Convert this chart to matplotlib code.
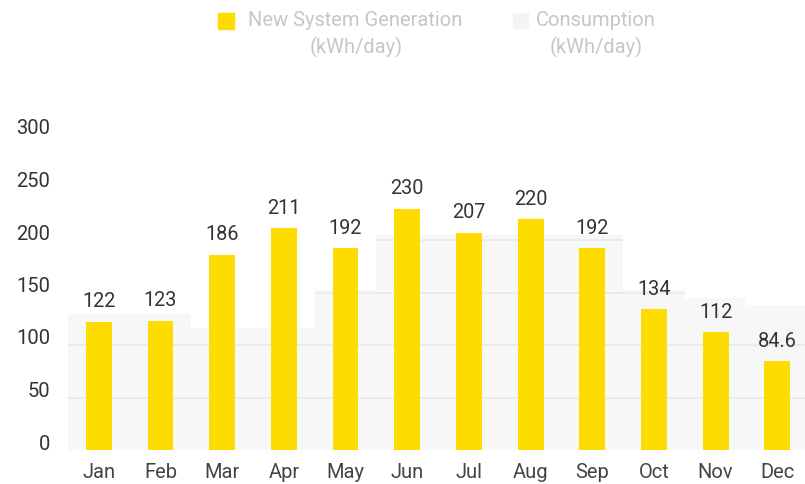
import numpy as np
import matplotlib.pyplot as plt
from matplotlib.patches import Rectangle
from matplotlib.transforms import ScaledTranslation

plt.rcParams['font.family'] = ['Roboto', 'DejaVu Sans']

months = ["Jan", "Feb", "Mar", "Apr", "May", "Jun", "Jul", "Aug", "Sep", "Oct", "Nov", "Dec"]
generation = [122, 123, 186, 211, 192, 230, 207, 220, 192, 134, 112, 84.6]
gen_labels = ["122", "123", "186", "211", "192", "230", "207", "220", "192", "134", "112", "84.6"]
# consumption is only a faint grey band in the source, values estimated
consumption = [130, 130, 116, 116, 152, 205, 205, 205, 205, 152, 145, 138]
yticks = [0, 50, 100, 150, 200, 250, 300]

bar_color = '#ffdc00'
area_color = '#f7f7f7'
grid_color = '#e8e8e8'
text_dark = '#333333'
legend_grey = '#c6c6c6'

fig = plt.figure(figsize=(8.05, 4.84), dpi=100)
ax = fig.add_axes([68 / 805, 1 - 450 / 484, 1 - 68 / 805, 315 / 484])

x = np.arange(len(months))

# consumption as a stepped area behind the bars
edges = np.arange(len(months) + 1) - 0.5
area = ax.fill_between(edges, consumption + [consumption[-1]], step='post',
                       color=area_color, linewidth=0, zorder=1)

# grid lines only show up inside the grey area
for v in yticks[1:]:
    gl = ax.axhline(v, color=grid_color, linewidth=1.2, zorder=2)
    gl.set_clip_path(area.get_paths()[0], ax.transData)

ax.bar(x, generation, width=0.42, color=bar_color, zorder=3)

for xi, v, lab in zip(x, generation, gen_labels):
    ax.annotate(lab, (xi, v), xytext=(0, 7.5), textcoords='offset points',
                ha='center', va='bottom', fontsize=14.3, color=text_dark)

ax.set_xlim(-0.5, 11.45)
ax.set_ylim(0, 300)
ax.set_xticks(x)
ax.set_xticklabels(months, fontsize=14.5, color='#444444')
ax.set_yticks(yticks)
ax.set_yticklabels([str(v) for v in yticks], fontsize=14.5, color=text_dark)
ax.tick_params(axis='both', length=0)
ax.tick_params(axis='x', pad=9)
ax.tick_params(axis='y', pad=13)
for lab in ax.get_yticklabels():
    lab.set_transform(lab.get_transform() + ScaledTranslation(0, 0.08, fig.dpi_scale_trans))
for s in ax.spines.values():
    s.set_visible(False)

# legend at top
fig.patches.append(Rectangle((218 / 805, 1 - 29 / 484), 16 / 805, 16 / 484,
                             transform=fig.transFigure, color=bar_color, figure=fig))
fig.patches.append(Rectangle((513 / 805, 1 - 28 / 484), 15 / 805, 15 / 484,
                             transform=fig.transFigure, color='#f4f4f4', figure=fig))
fig.text(355 / 805, 1 - 20 / 484, "New System Generation", ha='center', va='center',
         fontsize=14.5, color=legend_grey)
fig.text(356 / 805, 1 - 47 / 484, "(kWh/day)", ha='center', va='center',
         fontsize=14.5, color=legend_grey)
fig.text(596 / 805, 1 - 20 / 484, "Consumption", ha='center', va='center',
         fontsize=14.5, color=legend_grey)
fig.text(596 / 805, 1 - 47 / 484, "(kWh/day)", ha='center', va='center',
         fontsize=14.5, color=legend_grey)

fig.savefig('out.png', dpi=100, facecolor='white')
